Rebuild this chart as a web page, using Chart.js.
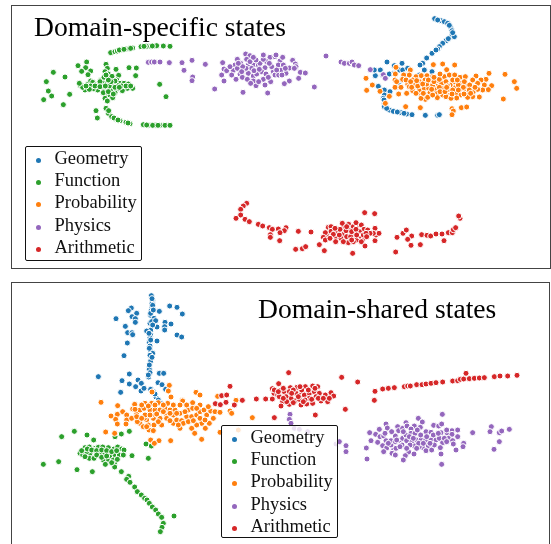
<!DOCTYPE html>
<html>
<head>
<meta charset="utf-8">
<title>Domain states</title>
<script src="https://cdn.jsdelivr.net/npm/chart.js@4/dist/chart.umd.min.js"></script>
<style>
  html, body { margin: 0; padding: 0; background: #fff; overflow: hidden; }
  .panel { position: absolute; box-sizing: border-box; border: 1px solid #444; background: #fff; }
  .panel canvas { position: absolute; left: 0; top: 0; }
  .title { position: absolute; font-family: "Liberation Serif", serif; color: #000; white-space: nowrap; line-height: 1; }
  .legend { position: absolute; box-sizing: border-box; border: 1px solid #111; border-radius: 2px; background: rgba(255, 255, 255, 0.8);
    font-family: "Liberation Serif", serif; font-size: 18.5px; color: #111; }
  .legend span { position: absolute; white-space: nowrap; line-height: 20px; }
  .legend i { position: absolute; width: 5px; height: 5px; border-radius: 50%; }
</style>
</head>
<body>
<div class="panel" id="panelTop" style="left:11px;top:5px;width:540px;height:264px">
  <canvas id="chartTop" width="538" height="262"></canvas>
</div>
<div class="panel" id="panelBottom" style="left:11px;top:282px;width:539px;height:272px">
  <canvas id="chartBottom" width="537" height="270"></canvas>
</div>
<div class="title" style="left:34px;top:13px;font-size:27.6px">Domain-specific states</div>
<div class="title" style="left:258px;top:295px;font-size:27.6px">Domain-shared states</div>
<div class="legend" id="legendTop" style="left:25px;top:146px;width:117px;height:115px"></div>
<div class="legend" id="legendBottom" style="left:221px;top:425px;width:117px;height:113px"></div>

<script>
const categories = ['Geometry', 'Function', 'Probability', 'Physics', 'Arithmetic'];
const colors = ['#1f77b4', '#2ca02c', '#ff7f0e', '#9467bd', '#d62728'];

// domain-specific states, embedding coordinates
const specificGeometry = [[1304,56],[1323,62],[1333,65],[1343,70],[1353,85],[1356,92],[1356,105],[1363,110],[1338,122],[1328,130],[1318,140],[1313,147],[1296,160],[1280,174],[1268,190],[1260,195],[1206,190],[1161,186],[1126,227],[1141,210],[1123,210],[1148,225],[1168,222],[1183,220],[1183,197],[1198,210],[1208,210],[1223,205],[1213,225],[1206,240],[1196,255],[1188,262],[1170,275],[1153,270],[1135,259],[1153,285],[1150,295],[1153,310],[1153,320],[1168,330],[1180,334],[1203,338],[1220,342],[1236,344],[1276,346],[1313,346],[1318,344],[1273,210],[1296,215],[1258,225],
  [1313,60],[1348,76],[1358,98],[1345,116],[1308,150],[1152,300],[1160,325],[1192,336],[1212,340]];

const specificFunction = [[332,158],[345,155],[352,153],[365,149],[378,147],[388,146],[398,144],[423,140],[440,139],[452,139],[463,138],[470,137],[490,138],[510,139],
  [234,197],[260,186],[257,203],[272,213],[245,214],[264,224],[160,217],[195,231],[139,245],[145,273],[155,288],[131,299],[209,283],[190,314],[288,332],[292,354],[387,203],[409,204],[407,227],[479,253],[498,290],
  [240,256],[248,258],[263,253],[272,243],[278,247],[289,254],[302,241],[312,232],[318,193],[322,205],[315,215],[325,222],[336,229],[348,208],[356,226],[350,240],[360,250],[372,250],[385,252],[398,265],[382,265],[367,272],[350,268],[345,278],[332,270],[318,269],[305,268],[293,270],[280,266],[262,265],[255,270],[248,262],[295,255],[310,250],[322,250],[338,255],[350,255],[365,258],[320,285],[330,285],[315,295],[338,293],[322,303],[300,245],[310,262],[328,258],[345,243],[272,258],
  [318,325],[325,340],[335,350],[348,358],[360,362],[378,367],[390,371],[430,374],[445,376],[467,376],[480,376],[495,376],[510,376],
  [268,268],[285,258],[300,260],[316,258],[333,245],[345,262],[358,262],[378,258],[392,258],[258,258],[238,250],[325,240],[318,225],[310,278],[325,275],[340,282],
  [358,150],[372,148],[392,145],[432,139],[457,138],[326,332],[342,354],[354,360],[384,369],[440,375],[458,376],[474,376]];

const specificProbability = [[1098,235],[1100,271],[1117,255],[1140,274],[1168,289],[1156,310],[1217,320],[1261,323],[1356,326],[1360,333],[1356,344],[1384,323],[1400,321],[1510,297],[1550,265],[1543,245],[1515,223],[1467,220],[1475,257],[1465,269],[1458,238],[1443,240],[1428,228],[1188,202],[1231,210],[1300,194],[1328,192],[1364,195],[1340,209],
  [1186,222],[1211,225],[1228,225],[1248,230],[1264,227],[1281,227],[1298,230],[1313,243],[1333,230],[1348,225],[1364,225],[1380,232],[1396,230],[1185,240],[1190,245],[1208,238],[1223,252],[1241,255],[1258,245],[1275,240],[1293,240],[1308,258],[1325,250],[1338,245],[1351,255],[1366,247],[1383,250],[1400,258],[1418,240],[1409,255],[1433,250],[1453,255],[1185,262],[1203,262],[1220,280],[1238,272],[1258,272],[1273,265],[1286,265],[1306,270],[1325,265],[1346,268],[1366,263],[1383,265],[1398,270],[1420,275],[1448,270],[1196,282],[1265,285],[1276,298],[1290,278],[1312,280],[1328,285],[1350,285],[1368,280],[1383,285],[1403,280],[1418,290],[1438,291],[1263,295],[1312,293],[1338,290],[1370,294],[1403,292],[1353,295],[1238,240],[1228,260],[1253,258],[1280,252],[1298,255],[1318,262],[1358,270],[1393,245],[1408,270],[1433,268],
  [1218,240],[1232,245],[1250,242],[1268,252],[1285,240],[1302,245],[1318,238],[1343,258],[1358,240],[1375,255],[1390,262],[1235,262],[1248,280],[1270,280],[1283,292],[1298,285],[1320,275],[1335,275],[1356,282],[1375,270],[1392,282],[1412,280],[1425,262],[1295,268],[1340,262],[1302,232],[1320,222],[1372,240]];

const specificPhysics = [[445,187],[455,186],[463,186],[480,186],[508,188],[546,188],[576,181],[616,193],[552,211],[578,231],[576,242],[644,267],[668,188],[665,225],[672,243],[672,207],[680,212],[700,211],[695,225],[712,178],[705,195],[737,162],[750,167],[740,178],[722,190],[745,195],[762,195],[735,210],[755,205],[775,195],[795,203],[780,190],[810,172],[825,170],[800,185],[720,222],[708,238],[727,232],[745,220],[760,228],[770,222],[790,238],[768,257],[795,255],[812,245],[803,279],[729,277],[760,243],[820,215],[815,200],[825,225],[738,205],[785,215],
  [828,165],[840,183],[848,172],[878,181],[886,192],[888,200],[843,210],[868,204],[883,205],[901,217],[916,219],[836,225],[858,220],[896,235],[868,243],[853,251],[943,261],[978,168],[1023,186],[1033,190],[1048,190],[1056,186],[1063,195],[1076,197],[1111,209],[1150,224],[1156,235],
  [690,200],[712,205],[728,200],[750,185],[768,180],[790,178],[808,190],[762,212],[778,208],[798,222],[742,238],[752,250],[776,245],[805,232],[835,195],[850,195],[830,210],[856,205],[846,225],[725,215],[715,190],[760,172],[790,165]];

const specificArithmetic = [[740,610],[730,618],[722,628],[722,645],[708,655],[735,658],[748,665],[775,673],[788,678],[808,683],[817,688],[835,687],[858,683],[853,692],[840,698],[811,704],[811,712],[839,722],[895,694],[933,696],[887,748],[907,746],[917,740],[958,734],[973,752],[1058,760],[1094,638],[1124,641],[1187,756],[1191,712],[1209,700],[1219,690],[1235,708],[1223,718],[1233,736],[1261,734],[1265,704],[1281,706],[1292,708],[1308,702],[1326,702],[1332,722],[1345,698],[1357,698],[1360,689],[1367,683],[1380,655],[1376,648],[1095,738],[1125,722],[1128,705],[1125,685],[1137,700],
  [985,682],[993,680],[1010,695],[1030,680],[1027,670],[1046,673],[1047,687],[1060,680],[1075,675],[1084,675],[1092,688],[1103,690],[1078,695],[1062,700],[1033,701],[1008,710],[984,710],[993,694],[976,698],[970,712],[976,720],[1007,725],[1023,715],[1040,710],[1052,710],[1070,720],[1088,718],[1045,728],[1084,725],[1120,700],[1110,700],[1080,708],[1060,725],[1090,705],
  [1000,703],[1018,705],[1038,692],[1055,695],[1068,688],[1020,688],[1005,685],[1040,680],[1070,705],[1098,700],[1100,710],[1055,720],[1030,725],[990,715],[1068,668]];

// domain-shared states
const sharedGeometry = [[454,887],[458,902],[456,910],[456,922],[454,932],[452,946],[462,955],[450,970],[455,965],[452,990],[440,993],[452,1005],[450,1013],[448,1027],[450,1038],[450,1050],[458,1060],[450,1066],[452,1083],[448,1108],[450,1118],[446,1131],[394,924],[385,932],[410,940],[396,950],[406,956],[406,967],[348,956],[376,979],[383,998],[396,998],[398,1004],[382,1029],[372,1067],[295,1130],[388,1122],[366,1142],[388,1152],[414,1140],[424,1150],[407,1160],[423,1173],[432,1165],[362,1177],[478,934],[509,918],[531,922],[547,942],[467,962],[495,967],[513,972],[494,980],[471,981],[494,990],[531,1005],[545,1011],[471,1023],[478,1120],[491,1120],[474,1148],[486,1154],[497,1168],[452,1168],[460,1175],[468,1191],[475,1200],[482,1210],
  [456,896],[458,916],[452,940],[458,975],[447,1000],[452,1020],[448,1045],[456,1072],[448,1095],[445,1125],[460,930],[465,1182]];

const sharedFunction = [[130,1393],[176,1385],[185,1310],[223,1294],[261,1305],[281,1320],[345,1310],[364,1302],[388,1294],[438,1332],[454,1338],[445,1375],[231,1409],[277,1415],[255,1343],[268,1341],[240,1360],[248,1365],[285,1345],[295,1342],[308,1341],[325,1343],[342,1347],[353,1341],[365,1347],[372,1350],[396,1367],[300,1363],[270,1360],[268,1375],[282,1375],[310,1380],[325,1378],[330,1368],[345,1365],[358,1365],[370,1365],[316,1393],[344,1388],[344,1401],[364,1415],[386,1429],[380,1438],[390,1447],[404,1461],[412,1475],[424,1485],[434,1495],[441,1500],[448,1510],[457,1521],[467,1530],[475,1542],[485,1552],[490,1570],[486,1582],[481,1595],[522,1548],[280,1350],[260,1355],[340,1380],[315,1360],
  [262,1347],[275,1350],[290,1352],[305,1350],[320,1352],[335,1355],[350,1352],[255,1370],[290,1365],[305,1372],[320,1368],[335,1388],[352,1378],[245,1352]];

const sharedProbability = [[508,1156],[505,1173],[513,1191],[456,1176],[588,1177],[600,1185],[547,1201],[303,1207],[353,1217],[653,1189],[708,1201],
  [333,1248],[352,1243],[347,1258],[352,1272],[368,1235],[380,1245],[380,1260],[378,1272],[395,1255],[410,1242],[398,1227],[404,1213],[420,1230],[435,1210],[455,1210],[475,1208],[503,1210],[548,1203],[578,1208],[600,1215],[432,1225],[450,1230],[465,1230],[480,1230],[495,1225],[510,1230],[525,1230],[540,1240],[520,1245],[500,1248],[480,1255],[460,1255],[440,1260],[420,1270],[412,1265],[445,1275],[462,1275],[485,1275],[500,1255],[520,1270],[530,1260],[545,1262],[560,1250],[575,1250],[590,1245],[600,1235],[565,1230],[578,1225],[612,1230],[620,1245],[632,1233],[645,1235],[660,1237],[640,1255],[628,1270],[605,1270],[590,1275],[575,1285],[616,1285],[540,1285],[550,1270],[447,1290],[460,1292],[584,1300],[660,1297],[690,1233],[695,1240],[715,1290],[757,1253],[605,1318],[512,1322],[452,1320],[477,1322],[463,1330],[317,1296],[344,1300],[433,1255],[455,1245],[490,1215],[410,1250],[435,1245],
  [425,1215],[445,1218],[465,1215],[490,1235],[510,1240],[530,1240],[470,1242],[450,1245],[425,1255],[405,1228],[555,1235],[590,1225],[565,1265],[580,1262],[535,1275],[510,1262],[475,1265],[430,1280],[600,1255],[615,1260],[520,1215],[540,1215],[560,1215],[625,1220],[440,1280]];

const sharedPhysics = [[870,1243],[868,1258],[873,1270],[883,1285],[898,1288],[923,1295],[1008,1332],[1018,1325],[1038,1337],[1038,1355],[1099,1344],[1101,1377],[1109,1298],[1113,1322],[1127,1303],[1138,1288],[1140,1310],[1133,1327],[1151,1308],[1158,1322],[1158,1272],[1162,1284],[1148,1337],[1160,1344],[1151,1355],[1173,1335],[1186,1308],[1173,1322],[1186,1325],[1181,1350],[1176,1360],[1186,1365],[1193,1280],[1196,1292],[1208,1285],[1198,1322],[1208,1315],[1218,1305],[1218,1268],[1221,1278],[1243,1278],[1233,1287],[1233,1300],[1245,1300],[1255,1255],[1267,1266],[1261,1282],[1220,1322],[1236,1325],[1250,1320],[1263,1320],[1278,1295],[1293,1297],[1277,1320],[1293,1320],[1308,1320],[1318,1315],[1301,1276],[1316,1278],[1325,1272],[1327,1243],[1323,1298],[1341,1298],[1356,1292],[1373,1290],[1356,1303],[1373,1310],[1345,1315],[1358,1322],[1328,1328],[1321,1343],[1360,1332],[1391,1330],[1389,1340],[1368,1350],[1418,1298],[1474,1280],[1470,1295],[1498,1298],[1505,1293],[1528,1288],[1498,1325],[1482,1348],[1323,1362],[1325,1393],[1226,1356],[1242,1362],[1216,1367],[1210,1380],[1243,1338],[1268,1342],[1285,1338],[1278,1352],[1295,1350],[1206,1335],[1188,1345],[1258,1340],[1303,1335],
  [1190,1320],[1210,1295],[1228,1310],[1240,1315],[1256,1330],[1270,1330],[1250,1345],[1262,1305],[1230,1335],[1200,1340],[1280,1310],[1300,1305],[1315,1300],[1333,1315],[1340,1325],[1220,1345],[1165,1330],[1155,1300],[1175,1295],[1290,1330],[1252,1290],[1340,1290]];

const sharedArithmetic = [[690,1159],[665,1187],[680,1185],[646,1211],[661,1214],[678,1207],[703,1215],[727,1201],[769,1197],[797,1197],[817,1197],[817,1166],[822,1180],[866,1118],[1025,1132],[1073,1146],[1125,1174],[1123,1201],[836,1151],
  [843,1170],[871,1163],[891,1162],[916,1160],[938,1158],[953,1160],[823,1170],[833,1185],[853,1175],[868,1175],[888,1180],[903,1185],[913,1185],[928,1180],[943,1175],[958,1180],[976,1185],[993,1178],[1001,1188],[838,1190],[848,1205],[868,1213],[886,1202],[903,1215],[920,1212],[938,1210],[963,1203],[983,1205],[988,1195],[948,1190],[928,1195],[898,1198],[873,1195],[858,1190],[843,1218],[946,1245],[1036,1228],[823,1253],
  [850,1165],[880,1170],[905,1170],[925,1170],[945,1165],[860,1205],[875,1180],[895,1190],[915,1200],[935,1198],[955,1195],[970,1195],[880,1208],[910,1205],[850,1195],[835,1175],[900,1160],
  [1148,1167],[1165,1165],[1183,1163],[1213,1160],[1223,1158],[1231,1158],[1250,1154],[1266,1154],[1278,1152],[1293,1150],[1308,1148],[1328,1146],[1358,1143],[1373,1142],[1381,1138],[1391,1137],[1398,1120],[1408,1136],[1423,1135],[1438,1134],[1453,1133],[1483,1130],[1500,1128],[1523,1128],[1551,1126]];

const specificSeries = [specificGeometry, specificFunction, specificProbability, specificPhysics, specificArithmetic];
const sharedSeries = [sharedGeometry, sharedFunction, sharedProbability, sharedPhysics, sharedArithmetic];

function makeChart(id, series, xRange, yRange) {
  new Chart(document.getElementById(id), {
    type: 'scatter',
    data: {
      datasets: series.map((points, i) => ({
        label: categories[i],
        data: points.map(p => ({ x: p[0], y: p[1] })),
        backgroundColor: colors[i],
        borderColor: '#fff',
        borderWidth: 1,
        pointRadius: 3,
        order: series.length - i, // later categories sit on top
        clip: false,
      })),
    },
    options: {
      responsive: false,
      animation: false,
      layout: { padding: 0, autoPadding: false },
      plugins: { legend: { display: false }, tooltip: { enabled: false } },
      scales: {
        x: { type: 'linear', display: false, min: xRange[0], max: xRange[1] },
        y: { type: 'linear', display: false, reverse: true, min: yRange[0], max: yRange[1] },
      },
    },
  });
}

function makeLegend(id) {
  const box = document.getElementById(id);
  categories.forEach((name, i) => {
    const label = document.createElement('span');
    label.textContent = name;
    label.style.left = '28.5px';
    label.style.top = (i * 22.2 + 1) + 'px';
    const dot = document.createElement('i');
    dot.style.left = '9.5px';
    dot.style.top = (i * 22.2 + 11) + 'px';
    dot.style.background = colors[i];
    box.append(dot, label);
  });
}

makeChart('chartTop', specificSeries, [36, 1650], [18, 804]);
makeChart('chartBottom', sharedSeries, [36, 1647], [849, 1659]);
makeLegend('legendTop');
makeLegend('legendBottom');
</script>
</body>
</html>
